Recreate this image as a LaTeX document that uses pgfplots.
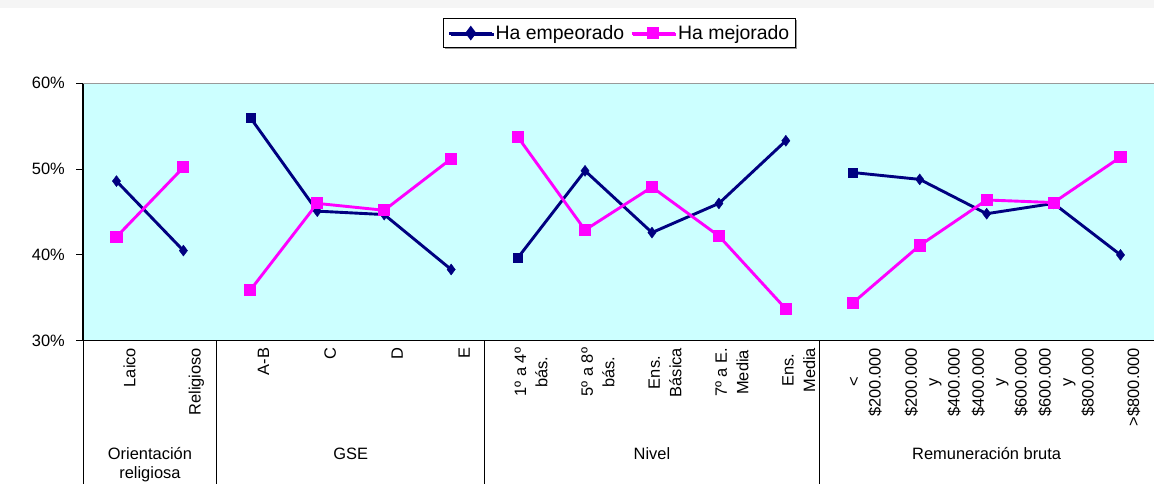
\documentclass[border=0pt]{standalone}
\usepackage{pgfplots}
\pgfplotsset{compat=1.18}
\usepackage{fontspec}
\setmainfont{Liberation Sans}
\usetikzlibrary{shadows}
\definecolor{navyc}{HTML}{000080}
\definecolor{magc}{HTML}{FF00FF}
\definecolor{cyanbg}{HTML}{CCFFFF}
\newcommand{\lblfont}{\fontsize{16.5}{21.5}\selectfont}
\begin{document}
\begin{tikzpicture}[x=1bp,y=1bp]
\useasboundingbox (0,0) rectangle (1154,484);
\fill[black!4] (0,476) rectangle (1154,484);
\begin{axis}[
  at={(83bp,143.3bp)}, anchor=south west,
  scale only axis, width=1071bp, height=257.4bp,
  xmin=-0.5, xmax=15.5, ymin=30, ymax=60,
  axis background/.style={fill=cyanbg},
  axis lines=left,
  axis line style={-, line width=1.1bp, black},
  unbounded coords=jump,
  clip=false,
  ytick={30,40,50,60}, yticklabels={30\%,40\%,50\%,60\%},
  xtick={0,...,15},
  xticklabels={Laico, Religioso, A-B, C, D, E,
    {1º a 4º\\bás.}, {5º a 8º\\bás.}, {Ens.\\Básica}, {7º a E.\\Media}, {Ens.\\Media},
    {<\\\$200.000}, {\$200.000\\y\\\$400.000}, {\$400.000\\y\\\$600.000}, {\$600.000\\y\\\$800.000}, {>\$800.000}},
  x tick style={draw=none},
  y tick style={black, line width=0.8bp},
  tick align=outside, major tick length=7bp,
  tick label style={font=\lblfont},
  xticklabel style={rotate=90, anchor=east, align=center, inner sep=0pt, yshift=-13bp},
  yticklabel style={inner sep=0pt, xshift=-11bp},
  legend style={at={(0.501,1.195)}, anchor=center, legend columns=2,
    draw=black, line width=0.8bp, fill=white,
    font=\fontsize{19.5}{22}\selectfont,
    inner xsep=4bp, inner ysep=5bp,
    drop shadow={shadow xshift=1.5bp, shadow yshift=-1.5bp, fill=gray!80, opacity=1},
    /tikz/every even column/.append style={column sep=4bp}},
  legend image code/.code={\draw[mark repeat=2,mark phase=2] plot coordinates {(0bp,0bp) (21.5bp,0bp) (43bp,0bp)};},
]
% Ha empeorado: line, diamond marks, square marks at first point of three groups
\addplot[forget plot, navyc, line width=2.9bp, mark=none]
  coordinates {(0,48.6) (1,40.5) (1.5,nan)
    (2,56.0) (3,45.1) (4,44.7) (5,38.3) (5.5,nan)
    (6,39.7) (7,49.8) (8,42.6) (9,46.0) (10,53.3) (10.5,nan)
    (11,49.6) (12,48.8) (13,44.8) (14,46.0) (15,40.0)};
\addplot[forget plot, only marks, navyc, mark=diamond*, mark size=5.5bp]
  coordinates {(0,48.6) (1,40.5) (3,45.1) (4,44.7) (5,38.3)
    (7,49.8) (8,42.6) (9,46.0) (10,53.3)
    (12,48.8) (13,44.8) (14,46.0) (15,40.0)};
\addplot[forget plot, only marks, navyc, mark=square*, mark size=4.6bp]
  coordinates {(2,56.0) (6,39.7) (11,49.6)};
\addlegendimage{navyc, line width=2.9bp, mark=diamond*, mark size=5bp, mark options={solid, fill=navyc}}
\addlegendentry{Ha empeorado}
% Ha mejorado
\addplot[magc, line width=2.9bp, mark=square*, mark size=4.6bp, mark options={solid, fill=magc}]
  coordinates {(0,42.1) (1,50.2) (1.5,nan)
    (2,35.9) (3,46.0) (4,45.2) (5,51.2) (5.5,nan)
    (6,53.7) (7,42.9) (8,47.9) (9,42.2) (10,33.7) (10.5,nan)
    (11,34.4) (12,41.1) (13,46.4) (14,46.1) (15,51.4)};
\addlegendentry{Ha mejorado}
\draw[gray!80, line width=1.1bp] (axis cs:-0.5,60) -- (axis cs:15.5,60);
\draw[black, line width=0.9bp] (axis cs:-0.5,30) -- ([yshift=-150bp]axis cs:-0.5,30);
\draw[black, line width=0.9bp] (axis cs:1.5,30) -- ([yshift=-150bp]axis cs:1.5,30);
\draw[black, line width=0.9bp] (axis cs:5.5,30) -- ([yshift=-150bp]axis cs:5.5,30);
\draw[black, line width=0.9bp] (axis cs:10.5,30) -- ([yshift=-150bp]axis cs:10.5,30);
\node[anchor=base, font=\lblfont] at ([yshift=-119bp]axis cs:0.5,30) {Orientación};
\node[anchor=base, font=\lblfont] at ([yshift=-138bp]axis cs:0.5,30) {religiosa};
\node[anchor=base, font=\lblfont] at ([yshift=-119bp]axis cs:3.5,30) {GSE};
\node[anchor=base, font=\lblfont] at ([yshift=-119bp]axis cs:8,30) {Nivel};
\node[anchor=base, font=\lblfont] at ([yshift=-119bp]axis cs:13,30) {Remuneración bruta};
\end{axis}
\end{tikzpicture}
\end{document}
